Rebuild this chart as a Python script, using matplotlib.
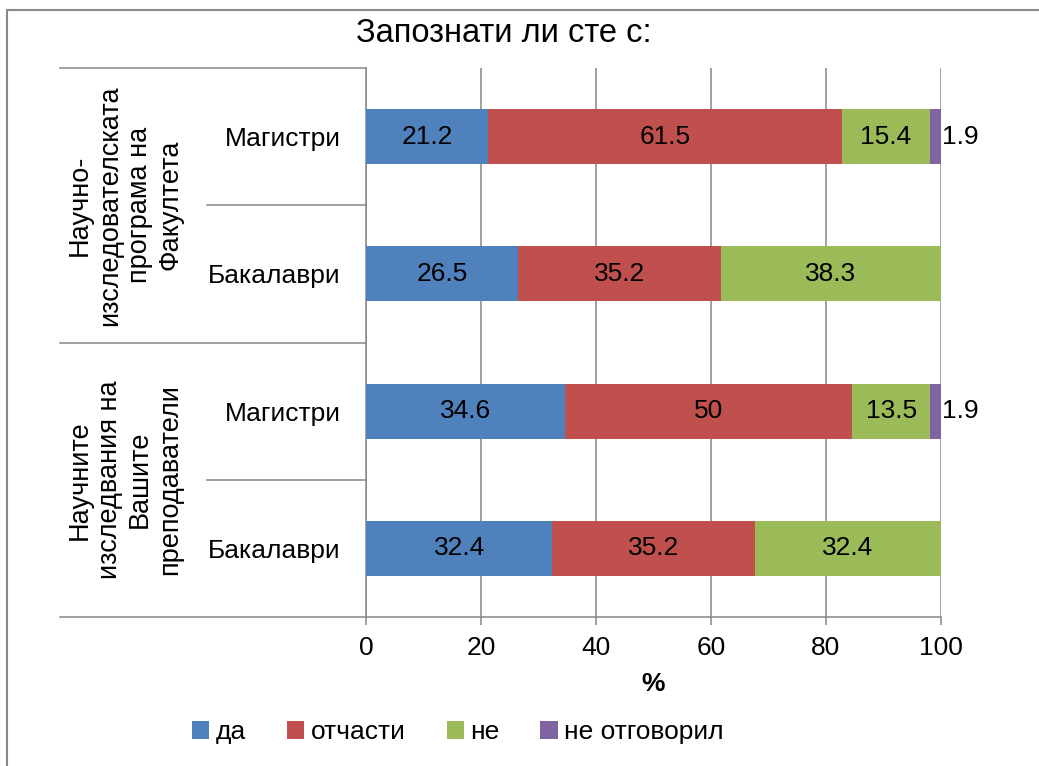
import matplotlib
matplotlib.use("Agg")
import matplotlib.pyplot as plt
import matplotlib.transforms as mtransforms
from matplotlib.lines import Line2D
from matplotlib.patches import Rectangle, Patch

plt.rcParams['font.family'] = ['Liberation Sans', 'DejaVu Sans']

# ---- data ----
categories = ["Бакалаври", "Магистри", "Бакалаври", "Магистри"]  # bottom to top
groups = ["Научните\nизследвания на\nВашите\nпреподаватели",
          "Научно-\nизследователската\nпрограма на\nФакултета"]
series_names = ["да", "отчасти", "не", "не отговорил"]
da = [32.4, 34.6, 26.5, 21.2]
otchasti = [35.2, 50, 35.2, 61.5]
ne = [32.4, 13.5, 38.3, 15.4]
ne_otg = [0, 1.9, 0, 1.9]
xticks = [0, 20, 40, 60, 80, 100]
title = "Запознати ли сте с:"
xlabel = "%"

colors = ["#4F81BD", "#C0504D", "#9BBB59", "#8064A2"]
series = [da, otchasti, ne, ne_otg]
FS = 19

W, H = 1039, 766
fig = plt.figure(figsize=(W / 100, H / 100), dpi=100)
x0, x1, y0, y1 = 366, 941, 68, 617
ax = fig.add_axes([x0 / W, 1 - y1 / H, (x1 - x0) / W, (y1 - y0) / H])

ypos = list(range(len(categories)))
left = [0] * len(categories)
for vals, col, name in zip(series, colors, series_names):
    ax.barh(ypos, vals, left=left, height=0.4, color=col, label=name, zorder=3)
    for i, (v, l) in enumerate(zip(vals, left)):
        if v <= 0:
            continue
        txt = f"{v:g}"
        if v < 5:
            ax.text(l + v + 0.1, i, txt, ha='left', va='center', fontsize=FS, zorder=4)
        else:
            ax.text(l + v / 2, i, txt, ha='center', va='center', fontsize=FS, zorder=4)
    left = [a + b for a, b in zip(left, vals)]

ax.set_xlim(0, 100)
ax.set_ylim(-0.5, len(categories) - 0.5)
ax.set_xticks(xticks)
ax.set_xticklabels([str(t) for t in xticks], fontsize=FS)
ax.set_yticks(ypos)
ax.set_yticklabels(categories, fontsize=FS)
ax.tick_params(axis='y', length=0, pad=18)
ax.tick_params(axis='x', length=6, width=1.1, color='#888888', pad=8)
for s in ['top', 'right', 'left']:
    ax.spines[s].set_visible(False)
ax.spines['bottom'].set_color('#888888')
ax.spines['bottom'].set_linewidth(1.1)
ax.grid(axis='x', color='#888888', linewidth=1.1, zorder=0)
ax.set_axisbelow(True)
ax.set_xlabel(xlabel, fontsize=FS, fontweight='bold', labelpad=8)

# category separators
trans = mtransforms.blended_transform_factory(ax.transAxes, ax.transData)
def axx(px):
    return (px - x0) / (x1 - x0)
for yv in [-0.5, 1.5, 3.5]:
    ax.add_line(Line2D([axx(60), 0], [yv, yv], transform=trans, color='#888888',
                       lw=1.1, clip_on=False))
for yv in [0.5, 2.5]:
    ax.add_line(Line2D([axx(207), 0], [yv, yv], transform=trans, color='#888888',
                       lw=1.1, clip_on=False))
ax.add_line(Line2D([0, 0], [-0.5, 3.5], transform=trans, color='#888888', lw=1.1,
                   clip_on=False))

for gi, g in enumerate(groups):
    ax.text(axx(125), gi * 2 + 0.5, g, transform=trans, rotation=90, ha='center',
            va='center', fontsize=FS + 0.5, multialignment='center', linespacing=1.22)

fig.text(504 / W, 1 - 33 / H, title, ha='center', va='center', fontsize=23.5)

handles = [Patch(facecolor=c, edgecolor='none') for c in colors]
fig.legend(handles, series_names, loc='center', bbox_to_anchor=(458 / W, 1 - 732 / H),
           ncol=4, frameon=False, fontsize=FS, handlelength=0.65, handleheight=0.65,
           handletextpad=0.25, columnspacing=1.55)

# outer border
fig.add_artist(Rectangle((7 / W, -0.05), 1.2, 1.05 - 10 / H, transform=fig.transFigure,
                         fill=False, edgecolor='#888888', lw=1.5))

fig.savefig("out.png", dpi=100)
